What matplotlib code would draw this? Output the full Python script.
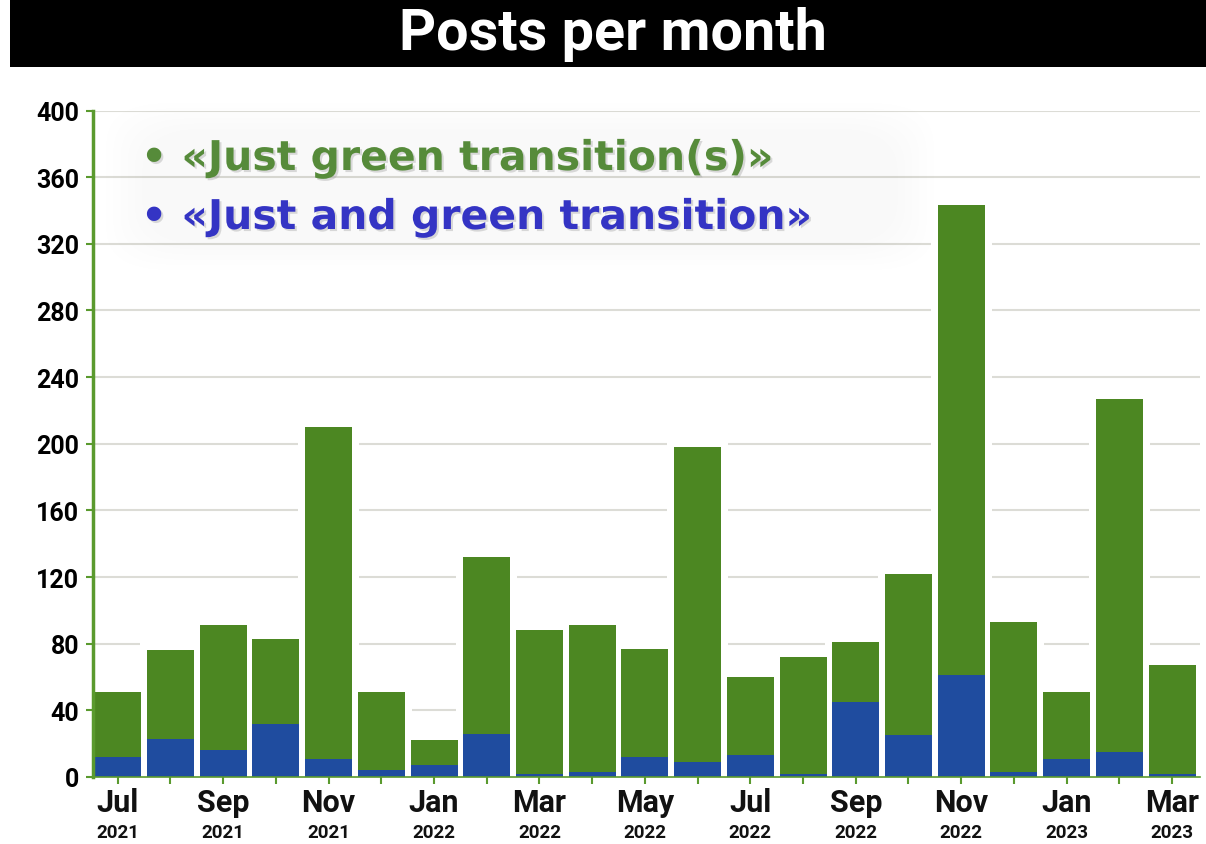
import matplotlib
matplotlib.use("Agg")
import matplotlib.pyplot as plt
import matplotlib.patheffects as pe
from matplotlib.patches import Rectangle, FancyBboxPatch
import numpy as np

# data
months = ["Jul", "Aug", "Sep", "Oct", "Nov", "Dec", "Jan", "Feb", "Mar", "Apr", "May",
          "Jun", "Jul", "Aug", "Sep", "Oct", "Nov", "Dec", "Jan", "Feb", "Mar"]
years = ["2021"] * 6 + ["2022"] * 12 + ["2023"] * 3
green_posts = [51, 76, 91, 83, 210, 51, 22, 132, 88, 91, 77,
               198, 60, 72, 81, 122, 343, 93, 51, 227, 67]
blue_posts = [12, 23, 16, 32, 11, 4, 7, 26, 2, 3, 12,
              9, 13, 2, 45, 25, 61, 3, 11, 15, 2]
y_ticks = [0, 40, 80, 120, 160, 200, 240, 280, 320, 360, 400]

GREEN = "#4c8722"
BLUE = "#1f4c9f"
AXIS_GREEN = "#5a9a2e"
FONT = ["Roboto", "DejaVu Sans"]

fig = plt.figure(figsize=(12.06, 8.45), dpi=100)
fig.patch.set_facecolor("white")

# title banner
fig.patches.append(Rectangle((10 / 1206, 1 - 68 / 845), 1, 68 / 845,
                             transform=fig.transFigure, facecolor="black",
                             edgecolor="none", zorder=0))
fig.text(613 / 1206, 1 - 34 / 845, "Posts per month", color="white",
         fontsize=41.5, fontweight="bold", family=FONT, ha="center", va="center")

ax = fig.add_axes([93 / 1206, 1 - 778 / 845, (1200 - 93) / 1206, (778 - 111.5) / 845])
x = np.arange(len(months))
# white halo so the grid lines stop short of the bars
ax.bar(x, [g + 5 for g in green_posts], width=1.15, color="white", zorder=1.5)
ax.bar(x, green_posts, width=0.89, color=GREEN, zorder=2)
ax.bar(x, blue_posts, width=0.89, color=BLUE, zorder=3)

ax.set_xlim(-0.47, 20.53)
ax.set_ylim(0, 400)
ax.set_yticks(y_ticks)
ax.yaxis.grid(True, color="#dcdcd6", linewidth=1.5, zorder=0)
ax.set_axisbelow(True)

for s in ["top", "right"]:
    ax.spines[s].set_visible(False)
ax.spines["left"].set_color(AXIS_GREEN)
ax.spines["left"].set_linewidth(2.5)
ax.spines["bottom"].set_color(AXIS_GREEN)
ax.spines["bottom"].set_linewidth(1.2)
ax.spines["left"].set_zorder(4)
ax.spines["bottom"].set_zorder(4)

ax.tick_params(axis="y", colors=AXIS_GREEN, length=5, width=1.5, labelcolor="black",
               labelsize=18, pad=5)
for lbl in ax.get_yticklabels():
    lbl.set_fontweight("bold")
    lbl.set_family(FONT)

ax.set_xticks(x)
ax.set_xticklabels([])
ax.tick_params(axis="x", colors=AXIS_GREEN, length=5, width=1.5)

# month / year labels every second month
for i in range(0, len(months), 2):
    ax.text(i, -0.038, months[i], transform=ax.get_xaxis_transform(), ha="center",
            va="center", fontsize=22, fontweight="bold", family=FONT, color="#111111")
    ax.text(i, -0.083, years[i], transform=ax.get_xaxis_transform(), ha="center",
            va="center", fontsize=13.5, fontweight="bold", family=FONT, color="#111111")

# faint glow behind the legend text
for k in range(6):
    pad = 0.012 * (6 - k)
    fig.patches.append(FancyBboxPatch((150 / 1206 - pad * 0.5, 1 - 240 / 845 - pad * 0.5),
                                      (890 - 150) / 1206 + pad, (240 - 135) / 845 + pad,
                                      boxstyle="round,pad=0,rounding_size=0.05",
                                      transform=fig.transFigure, facecolor="#d0d0d0",
                                      edgecolor="none", alpha=0.018, zorder=1))

shadow = [pe.SimplePatchShadow(offset=(1.5, -1.5), shadow_rgbFace="#999999", alpha=0.35),
          pe.Normal()]
fig.text(141 / 1206, 1 - 160 / 845, "\u2022 \u00abJust green transition(s)\u00bb",
         color="#568b3a", fontsize=29.5, fontweight="bold", family="DejaVu Sans",
         ha="left", va="center", path_effects=shadow, zorder=5)
fig.text(141 / 1206, 1 - 219 / 845, "\u2022 \u00abJust and green transition\u00bb",
         color="#3434c4", fontsize=29.5, fontweight="bold", family="DejaVu Sans",
         ha="left", va="center", path_effects=shadow, zorder=5)

fig.savefig("out.png", dpi=100)
